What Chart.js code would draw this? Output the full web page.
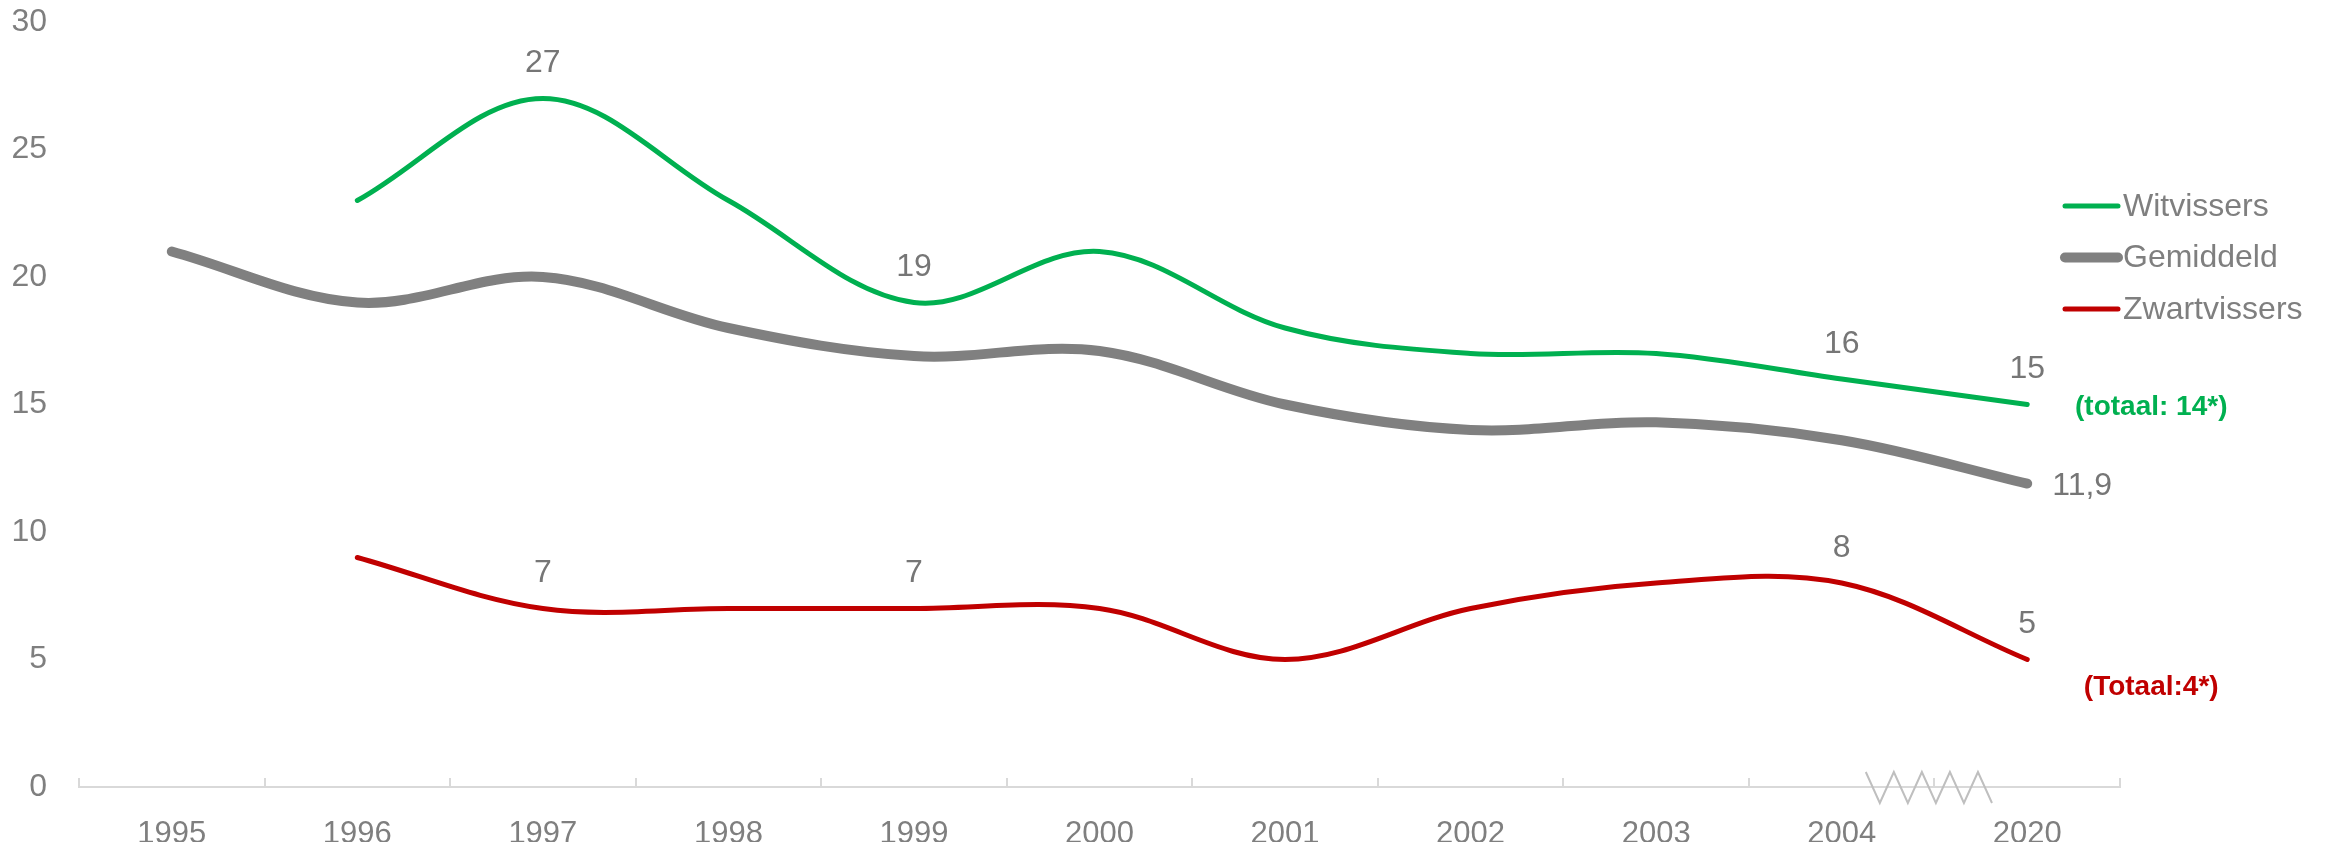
<!DOCTYPE html>
<html>
<head>
<meta charset="utf-8">
<script src="https://cdn.jsdelivr.net/npm/chart.js@4.4.1/dist/chart.umd.min.js"></script>
<style>
  body { margin: 0; background: #fff; }
  #wrap { width: 2329px; height: 842px; }
</style>
</head>
<body>
<div id="wrap"><canvas id="vissersChart"></canvas></div>
<script>
const categories = ['1995', '1996', '1997', '1998', '1999', '2000', '2001', '2002', '2003', '2004', '2020'];
const witvissers = [null, 23, 27, 23, 19, 21, 18, 17, 17, 16, 15];
const gemiddeld = [21, 19, 20, 18, 16.9, 17.1, 15, 14, 14.3, 13.6, 11.9];
const zwartvissers = [null, 9, 7, 7, 7, 7, 5, 7, 8, 8, 5];
const yTickValues = [0, 5, 10, 15, 20, 25, 30];

// which points get a value label
const witLabelYears = ['1997', '1999', '2004', '2020'];
const gemLabelYears = ['2020'];
const zwartLabelYears = ['1997', '1999', '2004', '2020'];

const witNote = '(totaal: 14*)';
const zwartNote = '(Totaal:4*)';

const FONT = "'Liberation Sans', Arial, sans-serif";
const GREEN = '#00b050';
const GREY = '#808080';
const RED = '#c00000';
const TEXT = '#7f7f7f';

function fmt(v){
  return String(v).replace('.', ',');
}

// value labels, notes, legend, axis ticks and the break mark
const extras = {
  id: 'extras',
  afterDatasetsDraw(chart){
    const ctx = chart.ctx;
    const area = chart.chartArea;
    const x = chart.scales.x;

    ctx.save();

    // small ticks on the x axis, pointing up
    ctx.strokeStyle = '#d9d9d9';
    ctx.lineWidth = 2;
    const step = x.getPixelForValue(1) - x.getPixelForValue(0);
    for (let i = 0; i <= categories.length; i++) {
      const px = Math.round(x.getPixelForValue(i) - step / 2);
      ctx.beginPath();
      ctx.moveTo(px, area.bottom);
      ctx.lineTo(px, area.bottom - 9);
      ctx.stroke();
    }

    // zigzag break between 2004 and 2020
    const a = x.getPixelForValue(categories.length - 2) + step * 0.13;
    const b = x.getPixelForValue(categories.length - 1) - step * 0.19;
    ctx.strokeStyle = '#bfbfbf';
    ctx.lineWidth = 2;
    ctx.beginPath();
    const n = 9;
    for (let k = 0; k <= n; k++) {
      const zx = a + (b - a) * k / n;
      const zy = k % 2 === 0 ? area.bottom - 15 : area.bottom + 16;
      if (k === 0) ctx.moveTo(zx, zy); else ctx.lineTo(zx, zy);
    }
    ctx.stroke();

    // value labels
    const labelSets = [witLabelYears, gemLabelYears, zwartLabelYears];
    ctx.font = '32px ' + FONT;
    ctx.fillStyle = '#767676';
    ctx.textBaseline = 'middle';
    chart.data.datasets.forEach((ds, i) => {
      const meta = chart.getDatasetMeta(i);
      labelSets[i].forEach((year) => {
        const idx = categories.indexOf(year);
        const pt = meta.data[idx];
        if (i === 1) {
          ctx.textAlign = 'left';
          ctx.fillText(fmt(ds.data[idx]), pt.x + 25, pt.y + 3);
        } else {
          ctx.textAlign = 'center';
          ctx.fillText(fmt(ds.data[idx]), pt.x, pt.y - 35);
        }
      });
    });

    // notes next to the last points
    const last = categories.length - 1;
    ctx.font = 'bold 28px ' + FONT;
    ctx.textAlign = 'center';
    const gPt = chart.getDatasetMeta(0).data[last];
    ctx.fillStyle = GREEN;
    ctx.fillText(witNote, gPt.x + 124, gPt.y + 3);
    const rPt = chart.getDatasetMeta(2).data[last];
    ctx.fillStyle = RED;
    ctx.fillText(zwartNote, rPt.x + 124, rPt.y + 28);

    // legend
    ctx.font = '32px ' + FONT;
    ctx.textAlign = 'left';
    ctx.lineCap = 'round';
    chart.data.datasets.forEach((ds, i) => {
      const ly = area.top + 184 + i * 51.5;
      ctx.strokeStyle = ds.borderColor;
      ctx.lineWidth = ds.borderWidth;
      ctx.beginPath();
      ctx.moveTo(area.right - 55, ly);
      ctx.lineTo(area.right - 2, ly);
      ctx.stroke();
      ctx.fillStyle = TEXT;
      ctx.fillText(ds.label, area.right + 3, ly + 1);
    });

    ctx.restore();
  }
};

const ctx = document.getElementById('vissersChart').getContext('2d');
const chart = new Chart(ctx, {
  type: 'line',
  data: {
    labels: categories,
    datasets: [
      {
        label: 'Witvissers',
        data: witvissers,
        borderColor: GREEN,
        borderWidth: 5
      },
      {
        label: 'Gemiddeld',
        data: gemiddeld,
        borderColor: GREY,
        borderWidth: 10
      },
      {
        label: 'Zwartvissers',
        data: zwartvissers,
        borderColor: RED,
        borderWidth: 5
      }
    ]
  },
  options: {
    responsive: true,
    maintainAspectRatio: false,
    animation: false,
    elements: {
      line: { tension: 0.35, borderCapStyle: 'round', borderJoinStyle: 'round', fill: false },
      point: { radius: 0, hoverRadius: 0 }
    },
    layout: {
      padding: { left: 0, right: 209, top: 22, bottom: 0 }
    },
    plugins: {
      legend: { display: false },
      tooltip: { enabled: false }
    },
    scales: {
      x: {
        offset: true,
        grid: { display: false },
        border: { display: true, color: '#d9d9d9', width: 2 },
        ticks: {
          color: TEXT,
          font: { family: FONT, size: 31 },
          padding: 21,
          maxRotation: 0,
          autoSkip: false
        },
        afterFit(scale){
          scale.height = 55;
          scale.paddingLeft = 0;
          scale.paddingRight = 0;
        }
      },
      y: {
        min: yTickValues[0],
        max: yTickValues[yTickValues.length - 1],
        grid: { display: false },
        border: { display: false },
        ticks: {
          color: TEXT,
          font: { family: FONT, size: 32 },
          padding: 24
        },
        afterBuildTicks(scale){
          scale.ticks = yTickValues.map((v) => ({ value: v }));
        },
        afterFit(scale){
          scale.width = 79;
          scale.paddingTop = 0;
          scale.paddingBottom = 0;
        }
      }
    }
  },
  plugins: [extras]
});
</script>
</body>
</html>
